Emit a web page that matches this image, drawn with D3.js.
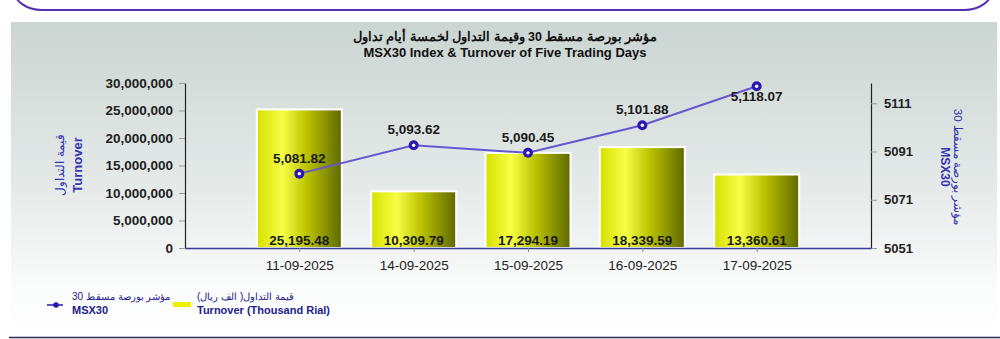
<!DOCTYPE html>
<html>
<head>
<meta charset="utf-8">
<script src="https://cdn.jsdelivr.net/npm/d3@7"></script>
<style>
  html, body { margin: 0; padding: 0; background: #ffffff; }
  svg { display: block; font-family: "Liberation Sans", Arial, sans-serif; }
</style>
</head>
<body>
<div id="chart"></div>
<script>
// chart values
const dates = ['11-09-2025', '14-09-2025', '15-09-2025', '16-09-2025', '17-09-2025'];
const turnover = [25195.48, 10309.79, 17294.19, 18339.59, 13360.61]; // thousand rial
const msx30 = [5081.82, 5093.62, 5090.45, 5101.88, 5118.07];
const leftTicks = [0, 5000000, 10000000, 15000000, 20000000, 25000000, 30000000];
const rightTicks = [5051, 5071, 5091, 5111];

const svgW = 1000, svgH = 339;
const plotLeft = 185, plotRight = 871, plotTop = 83, plotBottom = 248;

const svg = d3.select('#chart').append('svg')
    .attr('width', svgW)
    .attr('height', svgH);

const defs = svg.append('defs');

// panel background gradient
const bg = defs.append('linearGradient').attr('id', 'bgGrad')
    .attr('x1', 0).attr('y1', 0).attr('x2', 0).attr('y2', 1);
bg.append('stop').attr('offset', '0%').attr('stop-color', '#cbd5d2');
bg.append('stop').attr('offset', '55%').attr('stop-color', '#e6ebea');
bg.append('stop').attr('offset', '85%').attr('stop-color', '#fafbfb');
bg.append('stop').attr('offset', '100%').attr('stop-color', '#ffffff');

// bar gradient (left to right)
const bar = defs.append('linearGradient').attr('id', 'barGrad')
    .attr('x1', 0).attr('y1', 0).attr('x2', 1).attr('y2', 0);
bar.append('stop').attr('offset', '0%').attr('stop-color', '#d6e000');
bar.append('stop').attr('offset', '30%').attr('stop-color', '#f6ff45');
bar.append('stop').attr('offset', '60%').attr('stop-color', '#b8c000');
bar.append('stop').attr('offset', '100%').attr('stop-color', '#5f6900');

// top rounded frame
svg.append('rect')
    .attr('x', 14).attr('y', -30)
    .attr('width', 978).attr('height', 40)
    .attr('rx', 28)
    .attr('fill', 'none')
    .attr('stroke', '#5a2db5')
    .attr('stroke-width', 2);

// panel
svg.append('rect')
    .attr('x', 11).attr('y', 22)
    .attr('width', 986).attr('height', 310)
    .attr('fill', 'url(#bgGrad)');

// bottom rule
svg.append('line')
    .attr('x1', 9).attr('x2', 1000)
    .attr('y1', 337.5).attr('y2', 337.5)
    .attr('stroke', '#2a2a5c').attr('stroke-width', 1.5);

// titles
svg.append('text')
    .attr('x', 505).attr('y', 41)
    .attr('text-anchor', 'middle')
    .attr('font-size', 12.5).attr('font-weight', 'bold')
    .attr('fill', '#111')
    .attr('direction', 'rtl')
    .text('مؤشر بورصة مسقط 30 وقيمة التداول لخمسة أيام تداول');
svg.append('text')
    .attr('x', 505).attr('y', 57)
    .attr('text-anchor', 'middle')
    .attr('font-size', 13).attr('font-weight', 'bold')
    .attr('fill', '#111')
    .text('MSX30 Index & Turnover of Five Trading Days');

// scales
const x = d3.scalePoint().domain(dates).range([plotLeft, plotRight]).padding(1);
const yLeft = d3.scaleLinear().domain([0, 30000000]).range([plotBottom, plotTop]);
const yRight = d3.scaleLinear().domain([5051, 5119.4]).range([plotBottom, plotTop]);

// left axis
const leftAxis = svg.append('g')
    .attr('transform', `translate(${plotLeft},0)`)
    .call(d3.axisLeft(yLeft).tickValues(leftTicks).tickFormat(d3.format(',')).tickSize(6).tickPadding(6).tickSizeOuter(0));
leftAxis.select('.domain').attr('stroke', '#222').attr('stroke-width', 1.2);
leftAxis.selectAll('.tick line').attr('stroke', '#999');
leftAxis.selectAll('text').attr('font-size', 13.5).attr('font-weight', 'bold').attr('fill', '#222')
    .attr('font-family', '"Liberation Sans", Arial, sans-serif');

// right axis
const rightAxis = svg.append('g')
    .attr('transform', `translate(${plotRight},0)`)
    .call(d3.axisRight(yRight).tickValues(rightTicks).tickFormat(d3.format('d')).tickSize(6).tickPadding(7).tickSizeOuter(0));
rightAxis.select('.domain').attr('stroke', '#222').attr('stroke-width', 1.2);
rightAxis.selectAll('.tick line').attr('stroke', '#999');
rightAxis.selectAll('text').attr('font-size', 13).attr('font-weight', 'bold').attr('fill', '#222')
    .attr('font-family', '"Liberation Sans", Arial, sans-serif');

// bars
const barW = 85;
svg.append('g').selectAll('rect')
    .data(dates)
    .join('rect')
    .attr('x', d => x(d) - barW / 2)
    .attr('y', (d, i) => yLeft(turnover[i] * 1000))
    .attr('width', barW)
    .attr('height', (d, i) => plotBottom - yLeft(turnover[i] * 1000))
    .attr('fill', 'url(#barGrad)')
    .attr('stroke', '#ffffff')
    .attr('stroke-width', 2);

// bottom axis
const xAxis = svg.append('g')
    .attr('transform', `translate(0,${plotBottom})`)
    .call(d3.axisBottom(x).tickSize(4).tickPadding(8).tickSizeOuter(0));
xAxis.select('.domain').attr('stroke', '#3a3a9c').attr('stroke-width', 1.5);
xAxis.selectAll('.tick line').attr('stroke', '#888');
xAxis.selectAll('text').attr('font-size', 13.5).attr('fill', '#222')
    .attr('font-family', '"Liberation Sans", Arial, sans-serif');

// bar value labels
svg.append('g').selectAll('text')
    .data(dates)
    .join('text')
    .attr('x', d => x(d))
    .attr('y', plotBottom - 3)
    .attr('text-anchor', 'middle')
    .attr('font-size', 13.5).attr('font-weight', 'bold')
    .attr('fill', '#1a1a1a')
    .text((d, i) => d3.format(',.2f')(turnover[i]));

// index line
const line = d3.line()
    .x(d => x(d.date))
    .y(d => yRight(d.value));
const points = dates.map((d, i) => ({ date: d, value: msx30[i] }));

svg.append('path')
    .datum(points)
    .attr('d', line)
    .attr('fill', 'none')
    .attr('stroke', '#6656d0')
    .attr('stroke-width', 2);

const dots = svg.append('g').selectAll('g')
    .data(points)
    .join('g')
    .attr('transform', d => `translate(${x(d.date)},${yRight(d.value)})`);
dots.append('circle').attr('r', 5).attr('fill', '#2b18b0');
dots.append('circle').attr('r', 1.7).attr('fill', '#ffffff');

// index value labels
svg.append('g').selectAll('text')
    .data(points)
    .join('text')
    .attr('x', d => x(d.date))
    .attr('y', (d, i) => yRight(d.value) + (i === points.length - 1 ? 15 : -11))
    .attr('text-anchor', 'middle')
    .attr('font-size', 13.5).attr('font-weight', 'bold')
    .attr('fill', '#1a1a1a')
    .text(d => d3.format(',.2f')(d.value));

// axis titles
const leftTitle = svg.append('g').attr('transform', 'translate(0,165) rotate(-90)');
leftTitle.append('text')
    .attr('x', 0).attr('y', 64)
    .attr('text-anchor', 'middle')
    .attr('font-size', 12).attr('fill', '#3535b0')
    .text('قيمة التداول');
leftTitle.append('text')
    .attr('x', 0).attr('y', 82)
    .attr('text-anchor', 'middle')
    .attr('font-size', 13).attr('font-weight', 'bold').attr('fill', '#3535b0')
    .text('Turnover');

const rightTitle = svg.append('g').attr('transform', 'translate(0,167) rotate(90)');
rightTitle.append('text')
    .attr('x', 0).attr('y', -954)
    .attr('text-anchor', 'middle')
    .attr('font-size', 11.5).attr('fill', '#3535b0')
    .text('مؤشر بورصة مسقط 30');
rightTitle.append('text')
    .attr('x', 0).attr('y', -941)
    .attr('text-anchor', 'middle')
    .attr('font-size', 12).attr('font-weight', 'bold').attr('fill', '#3535b0')
    .text('MSX30');

// legend
const legend = svg.append('g');
legend.append('line')
    .attr('x1', 47).attr('x2', 63).attr('y1', 305).attr('y2', 305)
    .attr('stroke', '#2b18b0').attr('stroke-width', 1.5);
legend.append('circle').attr('cx', 56).attr('cy', 305).attr('r', 2.8).attr('fill', '#2b18b0');
legend.append('text')
    .attr('x', 72).attr('y', 300)
    .attr('font-size', 10).attr('fill', '#22228a')
    .text('مؤشر بورصة مسقط 30');
legend.append('text')
    .attr('x', 72).attr('y', 314)
    .attr('font-size', 11).attr('font-weight', 'bold').attr('fill', '#22228a')
    .text('MSX30');

legend.append('rect')
    .attr('x', 173).attr('y', 302).attr('width', 18).attr('height', 5)
    .attr('fill', '#eef000');
legend.append('text')
    .attr('x', 197).attr('y', 300)
    .attr('font-size', 10).attr('fill', '#22228a')
    .text('قيمة التداول( الف ريال)');
legend.append('text')
    .attr('x', 197).attr('y', 314)
    .attr('font-size', 11).attr('font-weight', 'bold').attr('fill', '#22228a')
    .text('Turnover (Thousand Rial)');
</script>
</body>
</html>
